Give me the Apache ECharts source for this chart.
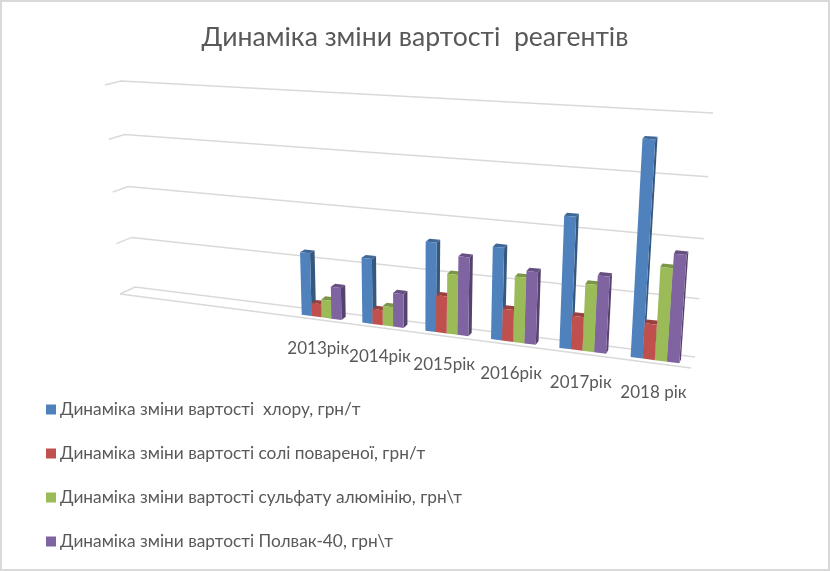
<!DOCTYPE html>
<html><head><meta charset="utf-8">
<style>html,body{margin:0;padding:0;background:#fff}#c{width:830px;height:571px}</style>
<script src="https://cdn.jsdelivr.net/npm/echarts@6/dist/echarts.min.js"></script></head>
<body><div id="c"></div>
<script>
const categories = ['', '', '', '2013рік', '2014рік', '2015рік', '2016рік', '2017рік', '2018 рік'];
const chlorine = [null, null, null, 5900, 6000, 8050, 8200, 11400, 18100];
const salt = [null, null, null, 1250, 1400, 3350, 2850, 2950, 3050];
const alum = [null, null, null, 1700, 1800, 5400, 5800, 5850, 7900];
const polvak = [null, null, null, 3000, 3100, 7050, 6400, 6650, 9100];
const valueTicks = [0, 5000, 10000, 15000, 20000];
const seriesNames = [
  'Динаміка зміни вартості  хлору, грн/т',
  'Динаміка зміни вартості солі повареної, грн/т',
  'Динаміка зміни вартості сульфату алюмінію, грн\\т',
  'Динаміка зміни вартості Полвак-40, грн\\т'
];
const seriesColors = ['#4F81BD', '#C0504D', '#9BBB59', '#8064A2'];
const sideColors = ['#35587F', '#813634', '#68803C', '#56436D'];
const topColors = ['#3F6797', '#9A403E', '#7C9647', '#665082'];
const FONT = 'Lato, "Open Sans", sans-serif';

function squareToQuad(q) {
  const [x0,y0]=q[0],[x1,y1]=q[1],[x2,y2]=q[2],[x3,y3]=q[3];
  const dx1=x1-x2,dx2=x3-x2,dx3=x0-x1+x2-x3,dy1=y1-y2,dy2=y3-y2,dy3=y0-y1+y2-y3;
  const den=dx1*dy2-dx2*dy1;
  const g=(dx3*dy2-dx2*dy3)/den,h=(dx1*dy3-dx3*dy1)/den;
  const a=x1-x0+g*x1,b=x3-x0+h*x3,c=x0,d=y1-y0+g*y1,e=y3-y0+h*y3,f=y0;
  return (u,v)=>{const w=g*u+h*v+1;return [(a*u+b*v+c)/w,(d*u+e*v+f)/w];};
}
const backWall = squareToQuad([[135,287],[695,357],[713,113],[121,81]]);
const frontWall = squareToQuad([[120,294],[691,368],[708,120],[105,85]]);
function project(u,v,depth){
  const b=backWall(u,v),f=frontWall(u,v);
  return [b[0]+(f[0]-b[0])*depth,b[1]+(f[1]-b[1])*depth];
}
function unit(params,px,py){
  const c=params.coordSys;
  return [(px-c.x)/c.width,(c.y+c.height-py)/c.height];
}
const FRONT=0.72, BACK=0.34, GROUP=0.66;
function barRenderer(s){
  return function(params,api){
    const val=api.value(1);
    if(val==null||isNaN(val)) return;
    const idx=api.value(0);
    const top=api.coord([idx,val]),base=api.coord([idx,0]);
    const bw=api.size([1,0])[0];
    const bar=bw*GROUP/4;
    const l=top[0]-bw*GROUP/2+s*bar,r=l+bar;
    const [u0,v0]=unit(params,l,base[1]);
    const [u1,v1]=unit(params,r,top[1]);
    const P=(u,v,d)=>project(u,v,d);
    const poly=(pts,fill)=>({type:'polygon',shape:{points:pts},style:{fill:fill}});
    return {type:'group',children:[
      poly([P(u1,v0,FRONT),P(u1,v0,BACK),P(u1,v1,BACK),P(u1,v1,FRONT)],sideColors[s]),
      poly([P(u0,v1,FRONT),P(u1,v1,FRONT),P(u1,v1,BACK),P(u0,v1,BACK)],topColors[s]),
      poly([P(u0,v0,FRONT),P(u1,v0,FRONT),P(u1,v1,FRONT),P(u0,v1,FRONT)],seriesColors[s])
    ]};
  };
}
const rows=[chlorine,salt,alum,polvak];
const series=rows.map((vals,s)=>({
  name:seriesNames[s],type:'custom',silent:true,coordinateSystem:'cartesian2d',
  itemStyle:{color:seriesColors[s]},z:3+s,clip:false,
  encode:{x:0,y:1},
  data:vals.map((v,i)=>[i,v]),
  renderItem:barRenderer(s)
}));
series.unshift({
  name:'grid',type:'custom',silent:true,z:1,clip:false,encode:{x:0,y:1},
  data:valueTicks.map(t=>[0,t]),
  renderItem(params,api){
    const py=api.coord([0,api.value(1)])[1];
    const v=unit(params,0,py)[1];
    const pts=[project(0,v,1),project(0,v,0),project(1,v,0)];
    const kids=[{type:'polyline',shape:{points:pts},style:{fill:'none',stroke:'#D9D9D9',lineWidth:1.5}}];
    if(api.value(1)===0) kids.push({type:'polyline',shape:{points:[project(0,0,1),project(1,0,1)]},style:{fill:'none',stroke:'#D9D9D9',lineWidth:1.5}});
    return {type:'group',children:kids};
  }
});
series.push({
  name:'labels',type:'custom',silent:true,z:9,clip:false,encode:{x:0,y:1},
  data:categories.map((c,i)=>[i,0]),
  renderItem(params,api){
    const i=api.value(0);
    if(!categories[i]) return;
    const p=api.coord([i,0]);
    const [u,v]=unit(params,p[0],p[1]);
    const q=project(u,v,1);
    return {type:'text',style:{text:categories[i],x:q[0],y:q[1]+29,align:'center',verticalAlign:'middle',fill:'#595959',font:'17px '+FONT}};
  }
});
const chart=echarts.init(document.getElementById('c'),null,{renderer:'canvas'});
chart.setOption({
  animation:false,backgroundColor:'#fff',
  title:{text:'Динаміка зміни вартості  реагентів',left:'center',top:19,textStyle:{fontFamily:FONT,fontSize:26.6,fontWeight:'normal',color:'#595959'}},
  legend:{data:seriesNames,orient:'vertical',left:41,top:396,itemWidth:10,itemHeight:10,itemGap:27,icon:'rect',selectedMode:false,
    textStyle:{fontFamily:FONT,fontSize:17.3,color:'#595959',padding:[0,0,0,-1]}},
  grid:{left:100,right:100,top:80,bottom:200},
  xAxis:{type:'category',data:categories,show:false},
  yAxis:{type:'value',min:0,max:20000,interval:5000,show:false},
  graphic:[{type:'rect',silent:true,z:100,shape:{x:1,y:1,width:828,height:569},style:{fill:'none',stroke:'#D9D9D9',lineWidth:2}}],
  series:series
});
</script></body></html>
